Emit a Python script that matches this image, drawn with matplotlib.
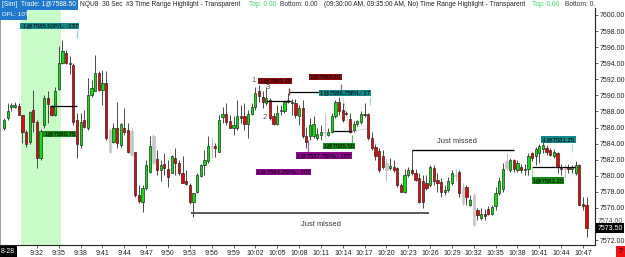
import matplotlib
matplotlib.use('Agg')
import matplotlib.pyplot as plt
import numpy as np
from matplotlib.patches import Rectangle
from matplotlib.transforms import Bbox, blended_transform_factory

plt.rcParams['font.family'] = ['Liberation Sans', 'DejaVu Sans']

# ---------------- data (30-sec bars, NQU8) ----------------
opens = [7585.9, 7587.2, 7588.6, 7588.5, 7588.7, 7587.5, 7585.5, 7584.2, 7588.2, 7586.7,
         7582.2, 7586.3, 7589.7, 7588.7, 7587.5, 7590.8, 7594.0, 7595.3, 7593.9, 7593.8,
         7586.9, 7583.8, 7587.0, 7586.0, 7590.0, 7590.6, 7592.8, 7590.7, 7591.5, 7585.7,
         7584.2, 7586.0, 7583.8, 7586.0, 7585.7, 7585.6, 7583.0, 7577.6, 7576.7, 7578.5,
         7580.5, 7584.9, 7582.1, 7580.7, 7581.5, 7580.8, 7580.3, 7582.2, 7581.6, 7580.3,
         7579.3, 7578.9, 7576.8, 7578.0, 7580.0, 7581.3, 7581.8, 7583.6, 7583.7, 7583.0,
         7587.3, 7587.7, 7586.8, 7585.9, 7585.9, 7587.4, 7587.4, 7586.4, 7587.7, 7588.6,
         7590.5, 7589.8, 7589.0, 7589.4, 7587.4, 7586.5, 7588.0, 7588.0, 7589.2, 7589.2,
         7589.0, 7587.4, 7588.4, 7584.9, 7584.9, 7584.9, 7584.7, 7585.1, 7585.3, 7585.1,
         7585.5, 7587.4, 7589.2, 7588.2, 7587.8, 7587.1, 7585.7, 7586.5, 7586.7, 7587.5,
         7587.7, 7584.7, 7583.6, 7583.1, 7582.5, 7581.6, 7581.0, 7581.1, 7581.0, 7578.9,
         7578.0, 7580.1, 7580.7, 7580.3, 7579.7, 7579.3, 7579.1, 7578.9, 7581.0, 7579.5,
         7579.2, 7578.0, 7578.2, 7579.1, 7580.1, 7580.5, 7578.6, 7578.6, 7576.4, 7577.6,
         7575.7, 7574.7, 7575.2, 7575.9, 7575.3, 7576.2, 7577.8, 7578.3, 7581.9, 7580.7,
         7582.0, 7580.7, 7581.1, 7580.7, 7580.8, 7582.8, 7582.5, 7582.8, 7583.3, 7583.5,
         7583.2, 7582.5, 7582.8, 7581.0, 7580.9, 7581.1, 7580.9, 7580.3, 7581.3, 7576.5,
         7576.4]
highs = [7587.2, 7589.1, 7589.1, 7589.2, 7589.0, 7587.6, 7585.7, 7588.0, 7590.7, 7586.9,
         7585.8, 7590.1, 7590.5, 7588.8, 7591.1, 7596.1, 7596.9, 7595.7, 7594.9, 7594.0,
         7587.8, 7587.8, 7588.2, 7592.2, 7591.9, 7595.0, 7593.0, 7593.2, 7593.0, 7586.0,
         7586.6, 7589.2, 7586.6, 7588.4, 7586.6, 7586.0, 7583.0, 7578.9, 7578.9, 7582.0,
         7584.9, 7585.2, 7583.2, 7582.0, 7582.8, 7582.0, 7582.6, 7583.5, 7582.0, 7582.4,
         7580.7, 7579.1, 7577.9, 7580.3, 7581.5, 7583.2, 7584.9, 7584.7, 7584.1, 7587.6,
         7588.6, 7589.1, 7587.6, 7587.4, 7589.4, 7588.8, 7589.1, 7588.2, 7589.1, 7591.1,
         7591.3, 7590.5, 7591.1, 7589.7, 7587.8, 7588.8, 7588.8, 7589.4, 7590.3, 7589.6,
         7589.6, 7588.8, 7589.4, 7586.1, 7587.2, 7587.4, 7585.9, 7586.3, 7587.8, 7585.9,
         7587.8, 7589.4, 7589.8, 7589.0, 7588.0, 7587.8, 7586.8, 7587.0, 7588.0, 7589.0,
         7587.8, 7585.5, 7584.0, 7583.4, 7583.2, 7582.2, 7582.2, 7582.0, 7581.1, 7579.1,
         7580.9, 7581.1, 7583.2, 7580.9, 7580.3, 7580.1, 7580.1, 7581.3, 7581.3, 7580.3,
         7579.7, 7578.9, 7579.9, 7580.7, 7580.9, 7580.7, 7579.1, 7578.9, 7577.6, 7577.8,
         7576.0, 7576.0, 7575.9, 7576.2, 7576.4, 7578.6, 7579.9, 7581.6, 7582.8, 7582.2,
         7582.1, 7582.0, 7581.5, 7581.5, 7582.8, 7583.0, 7583.6, 7584.0, 7584.2, 7583.8,
         7583.4, 7583.3, 7583.0, 7581.5, 7581.5, 7581.5, 7581.3, 7581.8, 7581.5, 7577.4,
         7577.4]
lows = [7585.7, 7586.9, 7588.0, 7588.4, 7587.5, 7584.1, 7583.6, 7583.9, 7585.5, 7581.0,
        7582.0, 7586.0, 7586.6, 7587.4, 7587.4, 7590.7, 7593.9, 7593.9, 7592.7, 7586.3,
        7582.2, 7583.4, 7585.9, 7585.7, 7589.8, 7590.5, 7590.5, 7588.8, 7584.5, 7582.8,
        7584.1, 7583.5, 7583.6, 7585.1, 7582.8, 7582.4, 7577.4, 7576.6, 7575.5, 7578.2,
        7580.3, 7581.4, 7580.1, 7579.3, 7580.1, 7578.6, 7580.3, 7580.1, 7580.1, 7579.1,
        7578.9, 7576.5, 7574.9, 7577.9, 7579.9, 7580.1, 7581.6, 7582.2, 7582.3, 7583.0,
        7586.6, 7586.3, 7585.9, 7585.1, 7585.7, 7586.6, 7585.7, 7584.7, 7587.6, 7588.2,
        7589.2, 7588.4, 7588.8, 7586.9, 7586.3, 7586.3, 7587.6, 7587.8, 7589.1, 7587.6,
        7587.2, 7586.3, 7584.7, 7583.4, 7584.5, 7584.7, 7584.5, 7584.5, 7584.7, 7584.9,
        7585.3, 7587.2, 7587.6, 7586.7, 7587.6, 7585.3, 7585.5, 7586.2, 7586.5, 7587.3,
        7584.5, 7583.2, 7582.0, 7580.5, 7580.9, 7579.3, 7580.7, 7580.5, 7578.6, 7578.0,
        7577.8, 7579.9, 7580.1, 7579.3, 7576.6, 7576.0, 7578.2, 7578.6, 7578.9, 7578.0,
        7577.4, 7577.6, 7578.0, 7578.9, 7579.3, 7577.4, 7576.4, 7576.4, 7576.2, 7573.7,
        7574.5, 7574.5, 7574.5, 7575.1, 7575.1, 7575.7, 7577.6, 7578.0, 7580.7, 7580.5,
        7580.5, 7580.5, 7580.3, 7580.1, 7580.1, 7581.8, 7581.3, 7581.6, 7582.8, 7582.6,
        7582.4, 7582.2, 7580.3, 7580.1, 7579.7, 7580.3, 7580.3, 7580.1, 7576.4, 7575.8,
        7572.4]
closes = [7586.9, 7588.1, 7588.75, 7588.75, 7587.6, 7585.5, 7583.9, 7587.9, 7586.7, 7582.2,
          7585.6, 7589.7, 7588.9, 7587.5, 7590.5, 7594.0, 7595.5, 7594.0, 7594.0, 7586.7,
          7584.0, 7586.7, 7586.1, 7590.0, 7590.9, 7592.8, 7590.7, 7591.5, 7584.7, 7583.0,
          7586.0, 7584.1, 7586.4, 7585.5, 7583.0, 7582.6, 7577.6, 7576.9, 7578.5, 7581.3,
          7583.7, 7581.6, 7580.7, 7581.3, 7581.0, 7579.8, 7582.4, 7581.6, 7580.3, 7579.1,
          7579.0, 7576.8, 7577.9, 7580.1, 7581.3, 7582.0, 7583.7, 7583.5, 7583.5, 7586.9,
          7587.7, 7586.7, 7585.9, 7586.3, 7587.4, 7587.2, 7586.4, 7587.7, 7588.6, 7590.3,
          7589.9, 7589.2, 7589.7, 7587.2, 7586.5, 7587.8, 7588.2, 7589.2, 7589.4, 7589.0,
          7587.6, 7588.4, 7584.9, 7584.2, 7586.3, 7586.4, 7585.2, 7585.4, 7585.5, 7585.5,
          7587.4, 7589.2, 7588.0, 7586.9, 7587.7, 7585.5, 7586.5, 7586.8, 7587.7, 7587.7,
          7584.7, 7583.4, 7582.4, 7580.7, 7581.1, 7580.7, 7581.2, 7580.7, 7578.9, 7578.0,
          7580.1, 7580.7, 7580.3, 7579.5, 7576.8, 7576.8, 7578.5, 7581.1, 7579.3, 7579.1,
          7578.0, 7578.2, 7579.3, 7580.3, 7580.0, 7577.8, 7576.6, 7577.4, 7577.0, 7573.9,
          7575.1, 7575.2, 7575.0, 7575.3, 7576.1, 7577.8, 7579.3, 7580.8, 7581.0, 7582.0,
          7580.8, 7581.6, 7580.7, 7580.9, 7582.5, 7582.2, 7583.3, 7583.7, 7583.8, 7582.9,
          7582.6, 7582.9, 7581.1, 7580.8, 7580.8, 7580.9, 7581.0, 7581.3, 7576.4, 7576.3,
          7573.5]
gray_bars = [29, 35, 41, 57, 88, 105, 124, 126, 129, 138, 154]

time_labels = ['9:32', '9:35', '9:38', '9:41', '9:44', '9:47', '9:50', '9:53', '9:56',
               '9:59', '10:02', '10:05', '10:08', '10:11', '10:14', '10:17', '10:20',
               '10:23', '10:26', '10:29', '10:32', '10:35', '10:38', '10:41', '10:44',
               '10:47']
price_ticks = [7572, 7574, 7576, 7578, 7580, 7582, 7584, 7586, 7588, 7590, 7592, 7594,
               7596, 7598, 7600]
last_price = 7573.50

# trade execution labels
exec_texts = ['-1@7585.50P/L: -13T', '1@7580.75', '-1@7591.25', '1@7590.25',
              '1@7586.75P/L: 1T', '1@7587.75P/L: 10T', '1@7584.25P/L: 20T', '1@7585.50',
              '-1@7581.25', '1@7581.25']
exec_bar = [4.4, 10.7, 69.6, 83.7, 86.5, 80.2, 69.2, 87.5, 147.5, 144.9]
exec_price = [7598.6, 7585.2, 7591.8, 7592.3, 7590.3, 7582.5, 7580.5, 7583.7, 7584.5, 7579.4]
exec_colors = ['#128888', '#148a14', '#8c0c0c', '#8c0c0c', '#128888', '#8a0a8a', '#8a0a8a',
               '#148a14', '#128888', '#148a14']

# stems from labels (bar, price from, price to, colour)
stem_bar = [20.0, 78.3, 92.4, 100.5, 83.4, 95.5, 155.9, 144.9]
stem_p0 = [7598.1, 7590.95, 7591.4, 7589.8, 7584.45, 7585.1, 7584.0, 7581.1]
stem_p1 = [7597.2, 7590.0, 7590.5, 7588.8, 7583.0, 7584.1, 7583.0, 7579.9]
stem_colors = ['#8fd3d3', '#8b3030', '#b06060', '#9fdcdc', '#b060b0', '#60b060', '#a8dede',
               '#a0e0a0']

# black trade lines (bar start, bar end, price)
tl_start = [12.6, 71.9, 78.2, 90.3, 144.9]
tl_end = [19.9, 78.8, 86.8, 95.5, 156.9]
tl_price = [7588.72, 7589.28, 7590.36, 7585.57, 7581.13]

# "Just missed" lines
jm_start = [51.3, 112.0]
jm_end = [116.7, 140.0]
jm_price = [7575.4, 7583.2]
jm_text_bar = [87.0, 124.5]
jm_text_price = [7574.0, 7584.3]

# ---------------- figure ----------------
W, H = 625, 257
fig = plt.figure(figsize=(W / 100, H / 100), dpi=100)
ax = fig.add_axes([0, 12 / H, 595 / W, 237 / H])
ax.set_xlim(-1.15, 162.3)
ax.set_ylim(7571.39, 7600.87)

ax.axvspan(4.5, 15.5, color='#c8fcc8', zorder=0, lw=0)

o = np.array(opens); h = np.array(highs); l = np.array(lows); c = np.array(closes)
x = np.arange(len(o))
isg = np.isin(x, gray_bars)
up = c >= o
face = np.where(isg, '#c6c6c6', np.where(up, '#00e600', '#ee0000'))
edge = np.where(isg, '#c6c6c6', '#1a1a1a')
wick = np.where(isg, '#c0c0c0', '#4a4a4a')
ax.vlines(x, l, h, colors=wick, lw=0.7, zorder=2)
bottom = np.minimum(o, c)
height = np.maximum(np.abs(c - o), 0.15)
ax.bar(x, height, bottom=bottom, width=0.62, color=face, edgecolor=edge, linewidth=0.45,
       zorder=3)

# trade lines
ax.hlines(tl_price, tl_start, tl_end, colors='black', lw=0.9, zorder=4)
ax.vlines(stem_bar, stem_p0, stem_p1, colors=stem_colors, lw=0.9, zorder=4)
ax.plot([93.0, 95.0], [7589.8, 7585.6], color='#cfcfcf', lw=0.6, zorder=1)
ax.plot([96.4, 100.5], [7585.6, 7585.9], color='#cfcfcf', lw=0.6, zorder=1)

for t, bx, py, col in zip(exec_texts, exec_bar, exec_price, exec_colors):
    ax.text(bx + 0.25, py, t, fontsize=4.3, color='black', ha='left', va='center',
            zorder=6, bbox=dict(boxstyle='square,pad=0.12', fc=col, ec='none'))

for t, bx, py in zip(['1', '3', '2'], [68.6, 72.5, 71.6], [7591.8, 7591.0, 7587.3]):
    ax.text(bx, py, t, fontsize=5.5, color='#555555', ha='center', va='center', zorder=6)

# just missed
ax.hlines(jm_price[0], jm_start[0], jm_end[0], colors='#4d4d4d', lw=1.3, zorder=4)
ax.hlines(jm_price[1], jm_start[1], jm_end[1], colors='black', lw=1.0, zorder=4)
for bx, py in zip(jm_text_bar, jm_text_price):
    ax.text(bx, py, 'Just missed', fontsize=5.4, color='#333333', ha='center',
            va='center', zorder=6)

# axes styling
ax.spines['top'].set_visible(False)
ax.spines['left'].set_color('#8c8c8c')
ax.spines['left'].set_linewidth(1.2)
ax.spines['right'].set_color('#222222')
ax.spines['right'].set_linewidth(0.8)
ax.spines['bottom'].set_color('#222222')
ax.spines['bottom'].set_linewidth(0.8)
ax.yaxis.tick_right()
ax.set_yticks(price_ticks)
ax.set_yticklabels([f'{p:.2f}' if p != 7574 else '' for p in price_ticks])
ax.tick_params(axis='y', length=2, width=0.5, pad=1, labelsize=5.0, colors='#222222')
ax.set_xticks([9 + 6 * k for k in range(len(time_labels))])
ax.set_xticklabels(time_labels)
ax.tick_params(axis='x', length=2, width=0.5, pad=1.5, labelsize=5.0, colors='#222222')

trans = blended_transform_factory(ax.transAxes, ax.transData)
ax.text(1.004, 7574.3, '7574.00', transform=trans, fontsize=5.0, color='#555555',
        ha='left', va='center', zorder=6, clip_on=False)
ax.text(1.004, last_price, f'{last_price:.2f}', transform=trans, fontsize=5.0,
        color='white', ha='left', va='center', zorder=7, clip_on=False,
        bbox=dict(boxstyle='square,pad=0.15', fc='black', ec='none'))

# ---------------- header ----------------
def fx(px):
    return px / W

def fy(py):
    return 1 - py / H

fig.add_artist(Rectangle((0, fy(10)), fx(78), 10 / H, transform=fig.transFigure,
                         fc='#1f78cc', ec='none', zorder=5))
fig.add_artist(Rectangle((0, fy(19.5)), fx(27), 9.5 / H, transform=fig.transFigure,
                         fc='#1f78cc', ec='none', zorder=5))
clip = Bbox.from_extents(0, 0, 595, H)
segs = [(2, '[Sim]  Trade: 1@7588.50', 'white'),
        (80, 'NQU8  30 Sec', '#222222'),
        (126, '#3 Time Range Highlight - Transparent', '#222222'),
        (249, 'Top: 0.00', '#33d66a'),
        (280, 'Bottom: 0.00', '#333333'),
        (324, '(09:30:00 AM, 09:35:00 AM, No)', '#222222'),
        (420, 'Time Range Highlight - Transparent', '#222222'),
        (532, 'Top: 0.00', '#33d66a'),
        (565, 'Bottom: 0.00', '#333333')]
for px, t, col in segs:
    tx = fig.text(fx(px), fy(5), t, fontsize=4.75, color=col, ha='left', va='center',
                  zorder=6)
    tx.set_clip_box(clip)
    tx.set_clip_on(True)
fig.text(fx(2), fy(14.8), 'DPL: 10T', fontsize=4.6, color='white', ha='left',
         va='center', zorder=6)

fig.text(fx(1), fy(251.5), '8-28', fontsize=5.0, color='white', ha='left', va='center',
         zorder=6, bbox=dict(boxstyle='square,pad=0.25', fc='black', ec='none'))
fig.text(fx(620.5), fy(251.5), '?', fontsize=5.0, color='black', ha='center',
         va='center', zorder=6, bbox=dict(boxstyle='square,pad=0.3', fc='#ee1111', ec='none'))

fig.savefig('out.png', dpi=100)
